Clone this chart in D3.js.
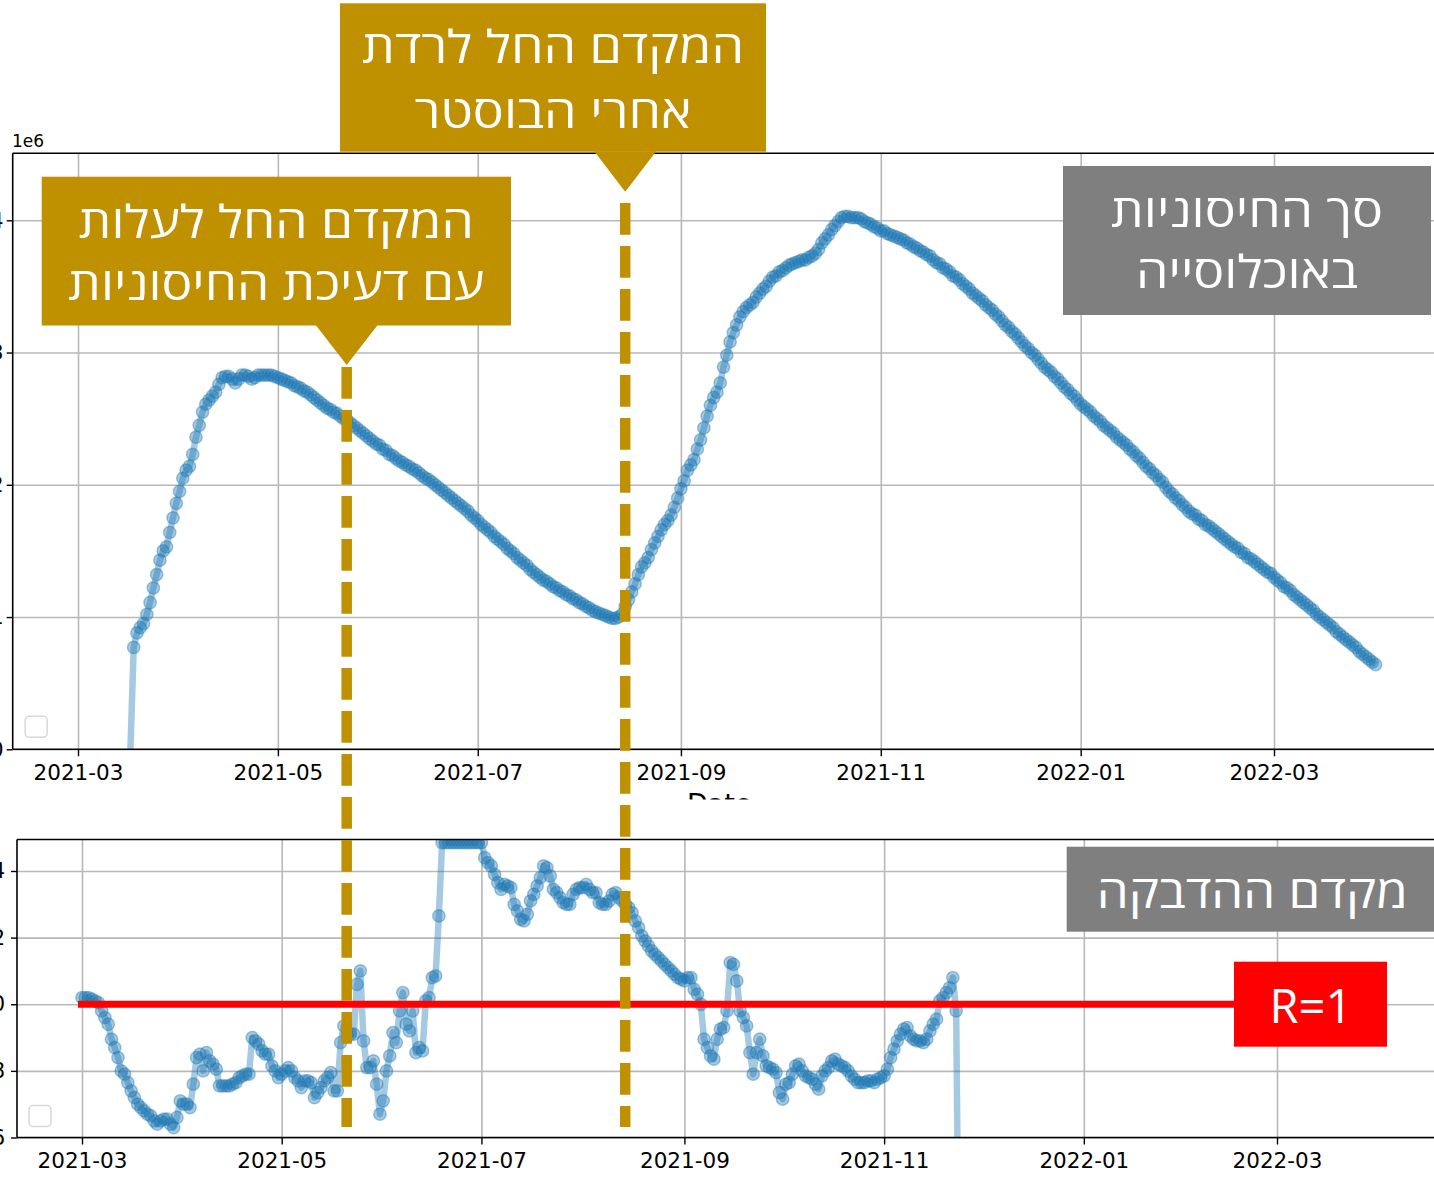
<!DOCTYPE html>
<html><head><meta charset="utf-8">
<script src="https://cdn.jsdelivr.net/npm/d3@7"></script>
<style>body{margin:0;background:#fff;} svg{display:block;}</style>
</head><body>
<svg id="chart" width="1434" height="1180"></svg>
<script>
// ---------------- DATA ----------------
const tickLabels = ["2021-03","2021-05","2021-07","2021-09","2021-11","2022-01","2022-03"];
const topYTicks = [0, 1, 2, 3, 4];          // x 1e6
const topYLabels = ["0", "1", "2", "3", "4"];
const botYTicks = [0.6, 0.8, 1.0, 1.2, 1.4];
const botYLabels = ["0.6", "0.8", "1.0", "1.2", "1.4"];

// Total population immunity (millions), one value per day from 2021-03-17
const topStartDate = "2021-03-17";
const topValues = [
  0,
  0.77,0.88,0.92,0.95,1.02,1.11,1.22,1.32,1.43,1.50,1.53,1.64,1.75,1.86,
  1.95,2.05,2.11,2.14,2.23,2.36,2.45,2.55,2.61,2.64,2.67,2.70,2.76,2.81,2.82,2.82,2.80,2.77,2.80,2.83,2.83,2.82,2.80,2.81,2.83,2.83,2.83,2.83,2.83,2.82,
  2.81,2.80,2.79,2.78,2.77,2.75,2.74,2.73,2.71,2.70,2.68,2.66,2.64,2.62,2.60,2.58,2.57,2.55,2.54,2.52,2.50,2.49,2.47,2.45,2.43,2.41,2.39,2.37,2.35,2.33,2.31,
  2.30,2.27,2.26,2.23,2.22,2.20,2.18,2.17,2.15,2.14,2.12,2.11,2.09,2.07,2.05,2.04,2.02,2.00,1.98,1.96,1.94,1.92,1.90,1.88,1.86,1.84,1.82,1.80,1.77,1.75,
  1.73,1.70,1.68,1.66,1.64,1.61,1.59,1.57,1.55,1.52,1.50,1.48,1.45,1.43,1.41,1.39,1.36,1.34,1.32,1.30,1.28,1.27,1.25,1.23,1.22,1.20,1.19,1.17,1.16,1.14,1.13,
  1.11,1.10,1.08,1.07,1.05,1.04,1.03,1.02,1.01,1.00,0.99,0.99,1.00,1.02,1.08,1.13,1.19,1.25,1.32,1.38,1.41,1.45,1.51,1.56,1.61,1.66,1.70,1.73,1.77,1.83,1.90,
  1.97,2.03,2.11,2.15,2.19,2.27,2.34,2.43,2.52,2.60,2.66,2.70,2.77,2.89,2.98,3.08,3.15,3.21,3.27,3.31,3.34,3.36,3.38,3.42,3.45,3.48,3.50,3.54,3.57,3.58,
  3.61,3.62,3.64,3.66,3.67,3.68,3.69,3.70,3.70,3.72,3.73,3.75,3.78,3.83,3.86,3.89,3.93,3.96,3.99,4.02,4.03,4.03,4.02,4.02,4.02,4.01,3.99,3.98,3.97,3.95,3.94,
  3.92,3.92,3.90,3.89,3.88,3.87,3.86,3.85,3.83,3.82,3.80,3.79,3.77,3.76,3.74,3.73,3.70,3.68,3.67,3.64,3.63,3.61,3.58,3.57,3.55,3.52,3.50,3.48,3.45,3.43,
  3.41,3.39,3.36,3.34,3.32,3.29,3.27,3.24,3.21,3.19,3.16,3.14,3.11,3.08,3.05,3.03,3.00,2.98,2.95,2.92,2.89,2.87,2.85,2.82,2.80,2.77,2.74,2.72,2.69,2.67,2.64,
  2.61,2.59,2.57,2.55,2.52,2.50,2.48,2.45,2.43,2.41,2.39,2.36,2.34,2.32,2.30,2.27,2.25,2.22,2.20,2.17,2.14,2.12,2.09,2.07,2.04,2.02,1.98,1.95,1.93,1.90,1.88,
  1.85,1.83,1.80,1.78,1.77,1.74,1.73,1.70,1.69,1.67,1.65,1.63,1.61,1.59,1.57,1.55,1.53,1.52,1.49,1.48,1.45,1.44,1.42,1.40,1.38,1.36,1.34,1.33,
  1.30,1.28,1.26,1.23,1.22,1.20,1.17,1.15,1.13,1.11,1.09,1.07,1.05,1.02,1.00,0.98,0.96,0.94,0.92,0.89,0.87,0.85,0.83,0.81,0.79,0.77,0.74,0.72,0.70,0.68,0.66,
  0.64
];

// Reproduction number R, one value per day from 2021-03-01
const botStartDate = "2021-03-01";
const botValues = [
  1.02,1.02,1.02,1.015,1.01,1.005,0.98,0.96,0.94,0.895,
  0.87,0.84,0.80,0.79,0.765,0.74,0.72,0.70,0.69,0.68,
  0.67,0.665,0.65,0.64,0.65,0.655,0.655,0.64,0.63,0.66,
  0.71,0.70,0.70,0.69,0.76,0.84,0.85,0.80,0.855,0.83,
  0.82,0.805,0.755,0.755,0.755,0.755,0.76,0.765,0.78,0.785,
  0.79,0.79,0.90,0.89,0.88,0.86,0.85,0.85,0.815,0.80,
  0.78,0.79,0.80,0.81,0.80,0.78,0.77,0.75,0.77,0.77,
  0.765,0.72,0.735,0.75,0.77,0.78,0.795,0.74,0.74,0.885,
  0.935,0.91,0.91,0.91,1.06,1.10,0.89,0.81,0.81,0.83,
  0.76,0.67,0.71,0.80,0.845,0.915,0.885,0.98,1.035,0.94,
  0.92,0.98,0.855,0.87,0.86,1.01,1.02,1.08,1.085,1.265,
  1.485,1.485,1.485,1.485,1.485,1.485,1.485,1.485,1.485,1.485,
  1.485,1.485,1.485,1.44,1.425,1.415,1.39,1.365,1.345,1.36,
  1.355,1.35,1.30,1.28,1.255,1.25,1.27,1.31,1.33,1.355,
  1.38,1.415,1.41,1.385,1.345,1.335,1.32,1.305,1.30,1.30,
  1.33,1.345,1.35,1.35,1.36,1.345,1.335,1.335,1.305,1.30,
  1.30,1.31,1.33,1.335,1.32,1.31,1.30,1.29,1.275,1.25,
  1.23,1.205,1.19,1.175,1.16,1.15,1.14,1.13,1.12,1.11,
  1.10,1.09,1.08,1.075,1.07,1.08,1.08,1.045,1.03,1.00,
  0.895,0.87,0.845,0.835,0.895,0.925,0.93,0.98,1.125,1.12,
  1.07,0.98,0.96,0.935,0.855,0.79,0.855,0.895,0.845,0.815,
  0.81,0.805,0.795,0.735,0.715,0.76,0.765,0.79,0.815,0.82,
  0.80,0.785,0.78,0.775,0.76,0.745,0.785,0.80,0.81,0.83,
  0.835,0.82,0.815,0.81,0.80,0.785,0.775,0.765,0.765,0.765,
  0.77,0.77,0.765,0.775,0.78,0.785,0.805,0.84,0.865,0.89,
  0.91,0.925,0.93,0.905,0.895,0.89,0.89,0.885,0.895,0.92,
  0.94,0.955,1.01,1.02,1.035,1.05,1.08,0.98,0
];

const rThreshold = 1.0;
const eventDates = ["2021-05-22", "2021-08-15"];
const riseText = ["המקדם החל לעלות", "עם דעיכת החיסוניות"];
const fallText = ["המקדם החל לרדת", "אחרי הבוסטר"];
const immunityText = ["סך החיסוניות", "באוכלוסייה"];
const rText = ["מקדם ההדבקה"];
const rLabel = "R=1";
const xAxisTitle = "Date";
const offsetLabel = "1e6";

// ---------------- DRAWING ----------------
const svg = d3.select("#chart");
const parseDay = d3.utcParse("%Y-%m-%d");
const parseMonth = d3.utcParse("%Y-%m");
const fmtMonth = d3.utcFormat("%Y-%m");
const tickDates = tickLabels.map(parseMonth);
const BLUE = "#1f77b4", GOLD = "#BF9000", GRAY = "#7F7F7F", GRID = "#b8b8b8";
const tickFont = "'DejaVu Sans', sans-serif";
const boxFont = "'Open Sans', 'DejaVu Sans', sans-serif";

const d0 = Date.UTC(2021, 2, 1), d1 = Date.UTC(2022, 2, 1);

function drawPanel(cfg) {
  const {left, right, top, bottom, x, y, yTicks, yLabels, values, start, id, yLabelX, labelY} = cfg;
  const g = svg.append("g");
  svg.append("defs").append("clipPath").attr("id", id)
    .append("rect").attr("x", left).attr("y", top).attr("width", right - left).attr("height", bottom - top);

  // grid
  const gx = g.append("g").attr("transform", `translate(0,${bottom})`)
    .call(d3.axisBottom(x).tickValues(tickDates).tickSize(-(bottom - top)).tickFormat(""));
  gx.select(".domain").remove();
  gx.selectAll("line").attr("stroke", GRID).attr("stroke-width", 1.6);
  const gy = g.append("g").attr("transform", `translate(${left},0)`)
    .call(d3.axisLeft(y).tickValues(yTicks).tickSize(-(right - left)).tickFormat(""));
  gy.select(".domain").remove();
  gy.selectAll("line").attr("stroke", GRID).attr("stroke-width", 1.6);

  // data
  const startDate = parseDay(start);
  const pts = values.map((v, i) => ({date: d3.utcDay.offset(startDate, i), v}));
  const dg = g.append("g").attr("clip-path", `url(#${id})`);
  const line = d3.line().x(d => x(d.date)).y(d => y(d.v));
  dg.append("path").datum(pts).attr("d", line)
    .attr("fill", "none").attr("stroke", BLUE).attr("stroke-opacity", 0.4)
    .attr("stroke-width", 6.5).attr("stroke-linejoin", "round");
  dg.selectAll("circle").data(pts.filter(d => d.v > 0)).join("circle")
    .attr("cx", d => x(d.date)).attr("cy", d => y(d.v)).attr("r", 6.2)
    .attr("fill", BLUE).attr("fill-opacity", 0.4)
    .attr("stroke", BLUE).attr("stroke-opacity", 0.4).attr("stroke-width", 1.4);

  // empty legend box
  g.append("rect").attr("x", left + cfg.legendDx).attr("y", bottom - cfg.legendDy)
    .attr("width", 22).attr("height", 21).attr("rx", 4)
    .attr("fill", "#fff").attr("stroke", "#d8d8d8").attr("stroke-width", 1.5);

  // spines
  const sp = g.append("g").attr("stroke", "#000").attr("stroke-width", 1.6);
  sp.append("line").attr("x1", left).attr("x2", right).attr("y1", top).attr("y2", top);
  sp.append("line").attr("x1", left).attr("x2", right).attr("y1", bottom).attr("y2", bottom);
  sp.append("line").attr("x1", left).attr("x2", left).attr("y1", top).attr("y2", bottom);

  // axes with labels
  const ax = g.append("g").attr("transform", `translate(0,${bottom})`)
    .call(d3.axisBottom(x).tickValues(tickDates).tickFormat(fmtMonth).tickSize(7));
  ax.select(".domain").remove();
  ax.selectAll("line").attr("stroke", "#000").attr("stroke-width", 1.4);
  ax.selectAll("text").attr("y", labelY).attr("dy", 0)
    .attr("font-family", tickFont).attr("font-size", 21.5).attr("fill", "#000");
  ax.attr("font-family", null).attr("font-size", null);

  const ay = g.append("g").attr("transform", `translate(${left},0)`)
    .call(d3.axisLeft(y).tickValues(yTicks).tickFormat((d, i) => yLabels[i]).tickSize(6));
  ay.select(".domain").remove();
  ay.selectAll("line").attr("stroke", "#000").attr("stroke-width", 1.4);
  ay.selectAll("text").attr("x", yLabelX)
    .attr("font-family", tickFont).attr("font-size", 21).attr("fill", "#000");
  ay.attr("font-family", null).attr("font-size", null);
  return g;
}

// ---- top panel ----
const xTop = d3.scaleUtc().domain([d0, d1]).range([78, 1274]);
const yTop = d3.scaleLinear().domain([0, 4]).range([749.3, 220.3]);
drawPanel({left: 12.7, right: 1440, top: 153.3, bottom: 749.3, x: xTop, y: yTop,
  yTicks: topYTicks, yLabels: topYLabels, values: topValues, start: topStartDate,
  id: "clipTop", yLabelX: -9, labelY: 31, legendDx: 12.5, legendDy: 33});

svg.append("text").attr("x", 12).attr("y", 147).text(offsetLabel)
  .attr("font-family", tickFont).attr("font-size", 17).attr("fill", "#000");

// x-axis title (partially hidden by the lower panel)
svg.append("text").attr("x", 687).attr("y", 813).text(xAxisTitle)
  .attr("font-family", tickFont).attr("font-size", 27).attr("fill", "#000");
svg.append("rect").attr("x", 0).attr("y", 799.5).attr("width", 1434).attr("height", 40).attr("fill", "#fff");

// ---- bottom panel ----
const xBot = d3.scaleUtc().domain([d0, d1]).range([82, 1277]);
const yBot = d3.scaleLinear().domain([0.6, 1.4]).range([1137.5, 871]);
drawPanel({left: 17, right: 1440, top: 839.5, bottom: 1137.5, x: xBot, y: yBot,
  yTicks: botYTicks, yLabels: botYLabels, values: botValues, start: botStartDate,
  id: "clipBot", yLabelX: -12, labelY: 30.5, legendDx: 12, legendDy: 32});

// ---------------- ANNOTATIONS ----------------
const ann = svg.append("g");
// R = 1 line
ann.append("line").attr("x1", 78).attr("x2", 1236)
  .attr("y1", yBot(rThreshold)).attr("y2", yBot(rThreshold))
  .attr("stroke", "#FF0000").attr("stroke-width", 7);

// dashed event lines
const dashStarts = [367, 203];
eventDates.forEach((ds, i) => {
  const xx = xTop(parseDay(ds));
  ann.append("line").attr("x1", xx).attr("x2", xx).attr("y1", dashStarts[i]).attr("y2", 1127)
    .attr("stroke", GOLD).attr("stroke-width", 10.5).attr("stroke-dasharray", "31.7,11.3");
});

function box(x0, y0, x1, y1, color, lines, baselines, widths, size, pointerX, pointerTip) {
  ann.append("rect").attr("x", x0).attr("y", y0).attr("width", x1 - x0).attr("height", y1 - y0).attr("fill", color);
  if (pointerX != null) {
    ann.append("path")
      .attr("d", `M${pointerX - 31},${y1 - 0.5} L${pointerX + 31},${y1 - 0.5} L${pointerX},${pointerTip} Z`)
      .attr("fill", color);
  }
  lines.forEach((t, i) => {
    ann.append("text").attr("x", (x0 + x1) / 2 + (widths.dx || 0)).attr("y", baselines[i]).text(t)
      .attr("text-anchor", "middle").attr("direction", "rtl")
      .attr("textLength", widths[i]).attr("lengthAdjust", "spacingAndGlyphs")
      .attr("font-family", boxFont).attr("font-size", size).attr("fill", "#fff");
  });
}

const riseX = xTop(parseDay(eventDates[0]));
const boostX = xTop(parseDay(eventDates[1]));
box(340, 3.3, 766, 151.7, GOLD, fallText, [63, 128], [382, 277], 45, boostX, 191.7);
box(41.7, 176.7, 511, 325.5, GOLD, riseText, [238, 300], [395, 416], 45, riseX, 365);
box(1063, 166, 1431, 315, GRAY, immunityText, [227, 288], [272, 222], 45);
const wD = [311]; wD.dx = 2;
box(1066.7, 846.7, 1434, 931.7, GRAY, rText, [908], wD, 45);
ann.append("rect").attr("x", 1234).attr("y", 961.7).attr("width", 153).attr("height", 85).attr("fill", "#FF0000");
ann.append("text").attr("x", 1311).attr("y", 1023).text(rLabel).attr("text-anchor", "middle")
  .attr("font-family", boxFont).attr("font-size", 47).attr("fill", "#fff");
</script>
</body></html>
